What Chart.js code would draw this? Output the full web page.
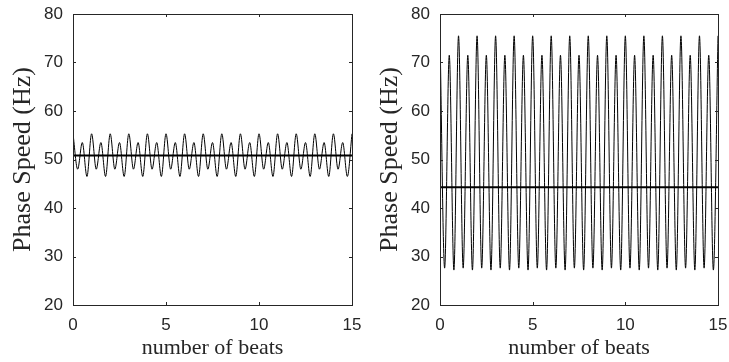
<!DOCTYPE html>
<html>
<head>
<meta charset="utf-8">
<script src="https://cdn.jsdelivr.net/npm/chart.js@4.4.0/dist/chart.umd.min.js"></script>
<style>
    body { margin: 0; background: #fff; width: 729px; height: 362px; overflow: hidden; position: relative; }
    canvas { position: absolute; top: 0; }
</style>
</head>
<body>
<canvas id="left" width="364" height="362" style="left:0px"></canvas>
<canvas id="right" width="365" height="362" style="left:364px"></canvas>
<script>
// beat positions (quarter beats)
const beats = [
    0, 0.25, 0.5, 0.75, 1, 1.25, 1.5, 1.75, 2, 2.25, 2.5, 2.75, 3, 3.25, 3.5, 3.75,
    4, 4.25, 4.5, 4.75, 5, 5.25, 5.5, 5.75, 6, 6.25, 6.5, 6.75, 7, 7.25, 7.5, 7.75,
    8, 8.25, 8.5, 8.75, 9, 9.25, 9.5, 9.75, 10, 10.25, 10.5, 10.75, 11, 11.25, 11.5, 11.75,
    12, 12.25, 12.5, 12.75, 13, 13.25, 13.5, 13.75, 14, 14.25, 14.5, 14.75, 15
];

// left panel: phase speed (Hz)
const speedLeft = [
    55.3, 48.0, 53.5, 46.5, 55.3, 48.0, 53.5, 46.5, 55.3, 48.0, 53.5, 46.5, 55.3, 48.0, 53.5, 46.5,
    55.3, 48.0, 53.5, 46.5, 55.3, 48.0, 53.5, 46.5, 55.3, 48.0, 53.5, 46.5, 55.3, 48.0, 53.5, 46.5,
    55.3, 48.0, 53.5, 46.5, 55.3, 48.0, 53.5, 46.5, 55.3, 48.0, 53.5, 46.5, 55.3, 48.0, 53.5, 46.5,
    55.3, 48.0, 53.5, 46.5, 55.3, 48.0, 53.5, 46.5, 55.3, 48.0, 53.5, 46.5, 55.3
];
const meanLeft = 50.8;

// right panel: phase speed (Hz)
const speedRight = [
    75.5, 27.6, 71.5, 27.2, 75.5, 27.6, 71.5, 27.2, 75.5, 27.6, 71.5, 27.2, 75.5, 27.6, 71.5, 27.2,
    75.5, 27.6, 71.5, 27.2, 75.5, 27.6, 71.5, 27.2, 75.5, 27.6, 71.5, 27.2, 75.5, 27.6, 71.5, 27.2,
    75.5, 27.6, 71.5, 27.2, 75.5, 27.6, 71.5, 27.2, 75.5, 27.6, 71.5, 27.2, 75.5, 27.6, 71.5, 27.2,
    75.5, 27.6, 71.5, 27.2, 75.5, 27.6, 71.5, 27.2, 75.5, 27.6, 71.5, 27.2, 75.5
];
const meanRight = 44.3;

const xTicks = [0, 5, 10, 15];
const yTicks = [20, 30, 40, 50, 60, 70, 80];

const axisColor = '#262626';

// box around the plot area with inward ticks, matlab style
const boxPlugin = {
    id: 'box',
    afterDraw(chart) {
        const ctx = chart.ctx;
        const a = chart.chartArea;
        const xs = chart.scales.x;
        const ys = chart.scales.y;
        const len = 3;
        ctx.save();
        ctx.strokeStyle = axisColor;
        ctx.lineWidth = 1;
        ctx.strokeRect(Math.round(a.left) + 0.5, Math.round(a.top) + 0.5,
            Math.round(a.right - a.left), Math.round(a.bottom - a.top));
        ctx.beginPath();
        xTicks.forEach(v => {
            const px = Math.round(xs.getPixelForValue(v)) + 0.5;
            ctx.moveTo(px, a.bottom); ctx.lineTo(px, a.bottom - len);
            ctx.moveTo(px, a.top); ctx.lineTo(px, a.top + len);
        });
        yTicks.forEach(v => {
            const py = Math.round(ys.getPixelForValue(v)) + 0.5;
            ctx.moveTo(a.left, py); ctx.lineTo(a.left + len, py);
            ctx.moveTo(a.right, py); ctx.lineTo(a.right - len, py);
        });
        ctx.stroke();
        ctx.restore();
    }
};

function makeChart(id, values, mean, yAxisWidth, titlePad, rightPad) {
    const ctx = document.getElementById(id);
    return new Chart(ctx, {
        type: 'line',
        data: {
            datasets: [
                {
                    data: beats.map((b, i) => ({ x: b, y: values[i] })),
                    borderColor: '#000',
                    borderWidth: 1,
                    pointRadius: 0,
                    cubicInterpolationMode: 'monotone',
                },
                {
                    data: [{ x: 0, y: mean }, { x: 15, y: mean }],
                    borderColor: '#000',
                    borderWidth: 2,
                    pointRadius: 0,
                }
            ]
        },
        options: {
            responsive: false,
            animation: false,
            devicePixelRatio: 1,
            layout: { padding: { top: 14, right: rightPad, left: 0, bottom: 0 } },
            plugins: { legend: { display: false }, tooltip: { enabled: false } },
            scales: {
                x: {
                    type: 'linear',
                    min: 0,
                    max: 15,
                    afterBuildTicks: s => { s.ticks = xTicks.map(v => ({ value: v })); },
                    afterFit: s => { s.height = 57; s.paddingLeft = 0; s.paddingRight = 0; },
                    grid: { display: false, drawTicks: false },
                    border: { display: false },
                    ticks: { color: axisColor, padding: 10, font: { family: 'Liberation Sans', size: 17 } },
                    title: {
                        display: true,
                        text: 'number of beats',
                        color: axisColor,
                        padding: { top: 0, bottom: 1 },
                        font: { family: 'Liberation Serif', size: 22 }
                    }
                },
                y: {
                    min: 20,
                    max: 80,
                    afterBuildTicks: s => { s.ticks = yTicks.map(v => ({ value: v })); },
                    afterFit: s => { s.width = yAxisWidth; s.paddingTop = 0; s.paddingBottom = 0; },
                    grid: { display: false, drawTicks: false },
                    border: { display: false },
                    ticks: { color: axisColor, padding: 10, font: { family: 'Liberation Sans', size: 17 } },
                    title: {
                        display: true,
                        text: 'Phase Speed (Hz)',
                        color: axisColor,
                        padding: { top: titlePad, bottom: 0 },
                        font: { family: 'Liberation Serif', size: 26 }
                    }
                }
            }
        },
        plugins: [boxPlugin]
    });
}

window.onload = function () {
    makeChart('left', speedLeft, meanLeft, 73, 8, 12);
    makeChart('right', speedRight, meanRight, 76, 11, 11);
};
</script>
</body>
</html>
